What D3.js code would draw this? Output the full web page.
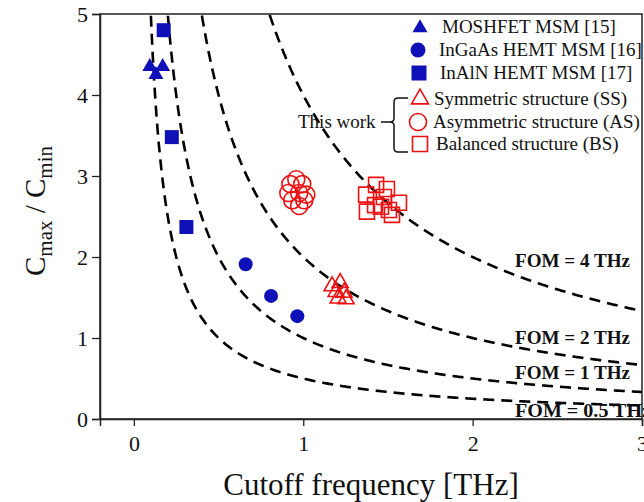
<!DOCTYPE html>
<html><head><meta charset="utf-8">
<script src="https://cdn.jsdelivr.net/npm/d3@7"></script>
<style>body{margin:0;background:#fff}svg{display:block}text{font-family:"Liberation Serif","Times New Roman",serif}</style>
</head><body><svg id="c" width="644" height="502"></svg>
<script>
// ---- data ----
const fomValues = [0.5, 1, 2, 4];
const fomLabels = ["FOM = 0.5 THz", "FOM = 1 THz", "FOM = 2 THz", "FOM = 4 THz"];
const xTicks = [0, 1, 2, 3];
const yTicks = [0, 1, 2, 3, 4, 5];
const moshfetX = [0.094, 0.17, 0.13];
const moshfetY = [4.35, 4.35, 4.25];
const ingaasX = [0.66, 0.81, 0.965];
const ingaasY = [1.91, 1.52, 1.27];
const inalnX = [0.176, 0.224, 0.31];
const inalnY = [4.80, 3.48, 2.37];
const ssX = [1.17, 1.218, 1.194, 1.241, 1.206, 1.253];
const ssY = [1.64, 1.68, 1.57, 1.56, 1.49, 1.48];
const asX = [0.924, 0.959, 0.994, 0.912, 0.976, 1.018, 0.935, 0.976, 1.006];
const asY = [2.90, 2.96, 2.90, 2.79, 2.79, 2.77, 2.70, 2.63, 2.70];
const bsX = [1.43, 1.494, 1.371, 1.476, 1.565, 1.424, 1.459, 1.376, 1.506, 1.524];
const bsY = [2.89, 2.84, 2.77, 2.74, 2.67, 2.64, 2.62, 2.56, 2.58, 2.52];
const legendNames = ["MOSHFET MSM [15]", "InGaAs HEMT MSM [16]", "InAlN HEMT MSM [17]",
  "Symmetric structure (SS)", "Asymmetric structure (AS)", "Balanced structure (BS)"];

// ---- layout ----
const svg = d3.select("#c");
const L = 100, R = 642, T = 14, B = 419;
const x = d3.scaleLinear().domain([-0.2, 3]).range([L, R]);
const y = d3.scaleLinear().domain([0, 5]).range([B, T]);
const blue = "#1010b8", red = "#ee1111";

svg.append("defs").append("clipPath").attr("id", "clip")
  .append("rect").attr("x", L).attr("y", T).attr("width", R - L).attr("height", B - T);

// FOM curves
const curveG = svg.append("g").attr("clip-path", "url(#clip)");
fomValues.forEach(f => {
  const xs = d3.range(0, 401).map(i => f / 5.2 + (3.05 - f / 5.2) * i / 400);
  curveG.append("path")
    .datum(xs)
    .attr("d", d3.line().x(v => x(v)).y(v => y(f / v)))
    .attr("fill", "none").attr("stroke", "#000").attr("stroke-width", 2.6)
    .attr("stroke-dasharray", "11,7");
});

// FOM labels
const labelY = {0.5: 0.03, 1: 0.49, 2: 0.93, 4: 1.88};
fomValues.forEach((f, i) => {
  svg.append("text").attr("x", 515).attr("y", y(labelY[f]))
    .attr("font-size", 19).attr("font-weight", "bold").attr("fill", "#111")
    .attr("textLength", f === 0.5 ? 136 : 115).attr("lengthAdjust", "spacingAndGlyphs")
    .text(fomLabels[i]);
});

// frame
svg.append("rect").attr("x", L).attr("y", T).attr("width", R - L).attr("height", B - T)
  .attr("fill", "none").attr("stroke", "#222").attr("stroke-width", 1.5);

// axes
const xAxis = svg.append("g").attr("transform", `translate(0,${B})`)
  .call(d3.axisBottom(x).tickValues(xTicks).tickSize(7).tickPadding(4).tickFormat(d3.format("d")));
const yAxis = svg.append("g").attr("transform", `translate(${L},0)`)
  .call(d3.axisLeft(y).tickValues(yTicks).tickSize(8).tickPadding(4).tickFormat(d3.format("d")));
[xAxis, yAxis].forEach(a => {
  a.select(".domain").attr("stroke", "#222").attr("stroke-width", 1.5);
  a.selectAll(".tick line").attr("stroke", "#222").attr("stroke-width", 1.3);
  a.selectAll("text").attr("font-size", 22).attr("fill", "#111")
    .attr("font-family", '"Liberation Serif",serif');
});
xAxis.selectAll("text").attr("dy", "0.95em");

// axis titles
svg.append("text").attr("x", 371).attr("y", 495).attr("text-anchor", "middle")
  .attr("font-size", 31).attr("fill", "#111").text("Cutoff frequency [THz]");
const yt = svg.append("text").attr("transform", "translate(45,211) rotate(-90)")
  .attr("text-anchor", "middle").attr("font-size", 29).attr("fill", "#111");
yt.append("tspan").text("C");
yt.append("tspan").attr("font-size", 21).attr("dy", 7).text("max");
yt.append("tspan").attr("dy", -7).text(" / C");
yt.append("tspan").attr("font-size", 21).attr("dy", 7).text("min");

// markers
const tri = s => d3.symbol(d3.symbolTriangle, s * s * Math.sqrt(3) / 4)();
const sq = s => d3.symbol(d3.symbolSquare, s * s)();
const dots = svg.append("g");
function plot(xs, ys, kind, filled, size) {
  xs.forEach((xv, i) => {
    const px = x(xv), py = y(ys[i]);
    let el;
    if (kind === "circle") el = dots.append("circle").attr("cx", px).attr("cy", py).attr("r", size / 2);
    else el = dots.append("path").attr("transform", `translate(${px},${py})`).attr("d", kind === "tri" ? tri(size) : sq(size));
    if (filled) el.attr("fill", blue).attr("stroke", "none");
    else el.attr("fill", "none").attr("stroke", red).attr("stroke-width", 1.6);
  });
}
plot(moshfetX, moshfetY, "tri", true, 15);
plot(ingaasX, ingaasY, "circle", true, 14);
plot(inalnX, inalnY, "sq", true, 14);
plot(ssX, ssY, "tri", false, 16);
plot(asX, asY, "circle", false, 17);
plot(bsX, bsY, "sq", false, 15);

// legend
const leg = [
  {k: "tri", f: true, s: 15, mx: 420, my: 28, tx: 442, ty: 33},
  {k: "circle", f: true, s: 15, mx: 418, my: 50, tx: 439, ty: 56},
  {k: "sq", f: true, s: 15, mx: 419, my: 73, tx: 440, ty: 79},
  {k: "tri", f: false, s: 17, mx: 420, my: 99, tx: 434, ty: 105},
  {k: "circle", f: false, s: 17, mx: 418, my: 122, tx: 433, ty: 128},
  {k: "sq", f: false, s: 15, mx: 420, my: 144, tx: 436, ty: 150}
];
leg.forEach((l, i) => {
  let el;
  if (l.k === "circle") el = svg.append("circle").attr("cx", l.mx).attr("cy", l.my).attr("r", l.s / 2);
  else el = svg.append("path").attr("transform", `translate(${l.mx},${l.my})`).attr("d", l.k === "tri" ? tri(l.s) : sq(l.s));
  if (l.f) el.attr("fill", blue); else el.attr("fill", "none").attr("stroke", red).attr("stroke-width", 1.6);
  svg.append("text").attr("x", l.tx).attr("y", l.ty).attr("font-size", 19).attr("fill", "#111").text(legendNames[i]);
});
svg.append("text").attr("x", 298).attr("y", 128).attr("font-size", 19).attr("fill", "#111").text("This work");
svg.append("path")
  .attr("d", "M381,122 H390 Q394,122 394,118 V102 Q394,98 398,98 H408 M390,122 Q394,122 394,126 V148 Q394,152 398,152 H408")
  .attr("fill", "none").attr("stroke", "#111").attr("stroke-width", 1.5);
</script></body></html>
